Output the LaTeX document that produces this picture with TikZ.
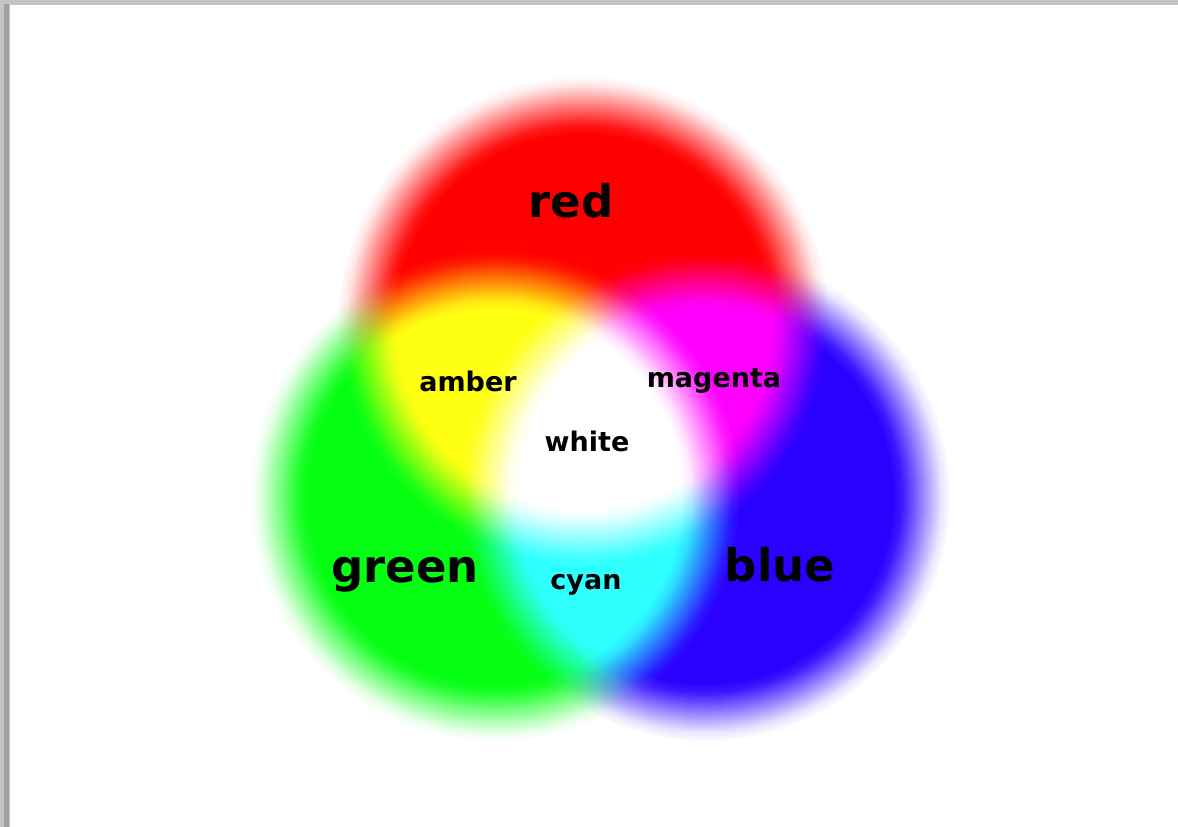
\documentclass[tikz,border=0pt]{standalone}
\usepackage{fontspec}
\setsansfont{DejaVu Sans}
\usetikzlibrary{fadings}
\definecolor{lampred}{RGB}{255,0,0}
\definecolor{lampgreen}{RGB}{4,255,18}
\definecolor{lampblue}{RGB}{42,0,255}
\definecolor{framegray}{RGB}{196,196,196}
\definecolor{frameline}{RGB}{160,160,160}
% soft rim of a lamp: opaque inside, smooth fall-off at the edge
\pgfdeclareradialshading{lampedgeshade}{\pgfpointorigin}{%
  color(0bp)=(white); color(19bp)=(white);
  color(20bp)=(white!90!black); color(22bp)=(white!50!black);
  color(24bp)=(white!10!black); color(25bp)=(black); color(50bp)=(black)}
\pgfdeclarefading{lampedge}{\pgfuseshading{lampedgeshade}}
\tikzset{
  lampdisc/.style={fill=#1, path fading=lampedge},
  lampword/.style={font=\sffamily\bfseries\fontsize{45}{50}\selectfont,
    inner sep=0pt, anchor=base},
  mixword/.style={font=\sffamily\bfseries\fontsize{27}{30}\selectfont,
    inner sep=0pt, anchor=base}
}

\begin{document}
\begin{tikzpicture}[x=1pt,y=-1pt]
\useasboundingbox (0,0) rectangle (1178,827);
% window frame
\fill[framegray] (0,0) rectangle (1178,827);
\fill[frameline] (4,4) rectangle (9,827);
\fill[white] (10,5) rectangle (1178,827);

\coordinate (redc) at (583,321);
\coordinate (greenc) at (495,496);
\coordinate (bluec) at (705,496);

% additive mix of the three lamps
\begin{scope}[blend group=screen]
  \fill[lampdisc=lampred] (redc) circle[radius=245pt];
  \fill[lampdisc=lampgreen] (greenc) circle[radius=245pt];
  \fill[lampdisc=lampblue] (bluec) circle[radius=245pt];
\end{scope}

\node[lampword] (redword) at (571,217) {red};
\node[lampword] (greenword) at (405,582) {green};
\node[lampword] (blueword) at (780,581) {blue};
\node[mixword] (amberword) at (468,391) {amber};
\node[mixword] (magentaword) at (714,387) {magenta};
\node[mixword] (whiteword) at (587,451) {white};
\node[mixword] (cyanword) at (586,589) {cyan};
\end{tikzpicture}
\end{document}
